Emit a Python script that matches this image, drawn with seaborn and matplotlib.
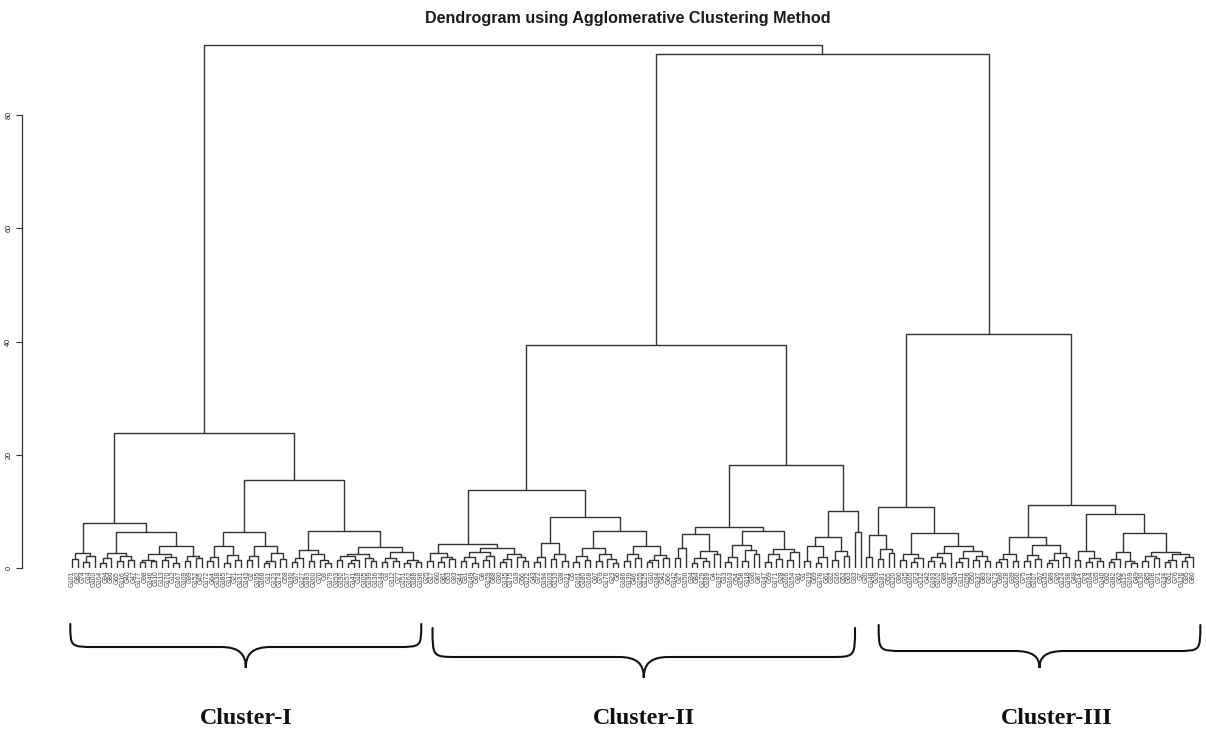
import matplotlib
matplotlib.use("Agg")
import matplotlib.pyplot as plt
import seaborn as sns
import pandas as pd
from matplotlib.path import Path
from matplotlib.patches import PathPatch

# ---------------- data: merge tree (leaf = *, number after ")" = merge height) ----------------
CLUSTER_I = ("((((*,*)1.6,((*,*)1.1,*)2.1)2.7,"
             "((((*,*)0.9,*)1.8,((*,*)1.2,(*,*)1.5)2.1)2.7,"
             "((((*,*)1.0,(*,*)1.2)1.5,((*,*)1.4,(*,*)0.9)2.0)2.4,((*,*)1.3,(*,*)1.7)2.2)3.9)6.4)8.0,"
             "(((((*,*)1.2,*)2.0,((*,*)0.9,(*,*)1.4)2.3)3.9,"
             "(((*,*)1.5,*)2.1,(((*,*)0.8,*)1.3,(*,*)1.6)2.7)3.9)6.4,"
             "((((*,*)1.0,*)1.8,((*,*)1.2,(*,(*,*)0.9)1.5)2.4)3.2,"
             "((((*,*)1.4,((*,*)0.9,*)1.5)2.1,(*,(*,*)1.2)1.8)2.5,"
             "(((*,*)1.0,(*,*)1.3)1.8,((*,*)0.8,(*,*)1.1)1.5)2.9)3.7)6.6)15.5)23.9")

CLUSTER_II = ("(((((*,*)1.3,((*,*)1.0,(*,*)1.6)2.0)2.6,"
              "((((*,*)1.2,(*,*)0.9)1.9,((*,*)1.5,*)2.2)2.8,(((*,*)1.0,*)1.6,(*,(*,*)1.3)2.0)2.5)3.5)4.3,"
              "((((*,*)1.1,*)1.9,((*,*)1.6,(*,*)1.2)2.4)4.5,"
              "((((*,*)1.0,(*,*)1.4)2.1,((*,*)1.2,(*,(*,*)0.9)1.6)2.4)3.5,"
              "(((*,*)1.3,(*,*)1.8)2.5,(((*,*)1.0,*)1.4,(*,*)1.7)2.3)3.8)6.6)9.0)13.8,"
              "(((((*,*)1.8,*)3.5,(((*,*)0.9,(*,*)1.2)1.8,(*,*)2.4)3.0)6.0,"
              "((((*,*)1.0,*)2.0,((*,*)1.3,(*,*)2.5)3.2)4.0,(((*,*)1.1,(*,*)1.6)2.4,((*,*)1.4,*)2.9)3.4)6.6)7.3,"
              "((((*,*)1.2,((*,*)0.9,*)2.0)3.8,((*,*)1.5,(*,*)2.2)3.0)5.5,(*,*)6.4)10.0)18.2)39.4")

CLUSTER_III = ("((((*,*)2.0,((*,*)1.6,(*,*)2.6)3.3)5.8,"
               "(((*,*)1.4,((*,*)1.0,*)1.8)2.5,"
               "((((*,*)1.3,(*,*)0.9)2.0,*)2.6,(((*,*)1.1,*)1.7,((*,*)1.5,(*,*)1.2)2.2)3.0)3.9)6.2)10.7,"
               "(((((*,*)1.0,*)1.6,(*,*)1.3)2.5,"
               "(((*,*)1.2,(*,*)1.6)2.3,(((*,*)0.9,*)1.4,(*,*)1.9)2.7)4.0)5.5,"
               "(((*,*)1.5,((*,*)1.0,(*,*)1.2)1.8)3.0,"
               "((((*,*)1.1,*)1.6,(*,(*,*)0.8)1.3)2.9,"
               "(((*,*)1.2,(*,*)1.7)2.1,(((*,*)1.0,*)1.5,((*,*)1.3,*)1.9)2.4)2.8)6.1)9.5)11.1)41.3")

H_II_III = 90.8
H_ROOT = 92.4

LEAF_LABELS = [
    101, 82, 74, 14, 100, 104, 94, 86, 65, 116, 40, 47, 177, 98, 146, 110, 113, 170, 12, 167,
    109, 99, 152, 45, 172, 64, 138, 185, 117, 21, 131, 143, 2, 195, 166, 11, 123, 174, 58, 190,
    37, 127, 183, 200, 70, 9, 179, 153, 192, 157, 141, 18, 105, 199, 136, 144, 3, 112, 77, 151,
    162, 188, 196, 25, 17, 60, 81, 53, 93, 44, 31, 149, 67, 8, 159, 88, 30, 135, 175, 19,
    56, 122, 43, 72, 194, 103, 133, 38, 121, 5, 161, 180, 168, 97, 79, 176, 23, 6, 186, 139,
    46, 155, 125, 10, 184, 41, 66, 142, 27, 150, 34, 84, 129, 189, 4, 197, 13, 163, 54, 158,
    118, 36, 87, 147, 59, 171, 28, 106, 154, 91, 1, 119, 69, 178, 61, 32, 16, 52, 63, 33,
    7, 20, 148, 29, 181, 55, 120, 90, 15, 165, 73, 132, 42, 193, 102, 68, 187, 24, 111, 156,
    50, 137, 83, 22, 173, 96, 128, 39, 160, 75, 191, 107, 57, 145, 89, 26, 124, 198, 48, 114,
    78, 164, 35, 140, 92, 182, 62, 115, 169, 49, 130, 85, 108, 71, 134, 51, 76, 126, 95, 80,
]

CLUSTER_NAMES = ["Cluster-I", "Cluster-II", "Cluster-III"]
Y_TICKS = [0, 20, 40, 60, 80]
TITLE = "Dendrogram using Agglomerative Clustering Method"


# ---------------- parse tree ----------------
def parse(s):
    pos = 0

    def node():
        nonlocal pos
        if s[pos] == '*':
            pos += 1
            return None
        pos += 1          # '('
        a = node()
        pos += 1          # ','
        b = node()
        pos += 1          # ')'
        j = pos
        while pos < len(s) and (s[pos].isdigit() or s[pos] == '.'):
            pos += 1
        return (float(s[j:pos]), a, b)

    return node()


def n_leaves(t):
    return 1 if t is None else n_leaves(t[1]) + n_leaves(t[2])


c1, c2, c3 = parse(CLUSTER_I), parse(CLUSTER_II), parse(CLUSTER_III)
tree = (H_ROOT, c1, (H_II_III, c2, c3))
N = n_leaves(tree)

segs = []
counter = [0]


def layout(t):
    if t is None:
        x = counter[0]
        counter[0] += 1
        return float(x), 0.0
    h, a, b = t
    xa, ha = layout(a)
    xb, hb = layout(b)
    segs.append((xa, ha, xb, hb, h))
    return (xa + xb) / 2.0, h


layout(tree)

rows = []
for k, (xa, ha, xb, hb, h) in enumerate(segs):
    for o, (x, y) in enumerate([(xa, ha), (xa, h), (xb, h), (xb, hb)]):
        rows.append(dict(unit=k, order=o, x=x, y=y))
df = pd.DataFrame(rows)

# ---------------- figure ----------------
sns.set_theme(style="white")
plt.rcParams['font.family'] = ['Liberation Sans', 'DejaVu Sans']

W, H = 1206, 731
fig = plt.figure(figsize=(W / 100, H / 100), dpi=100)
px_top, px_zero = 40, 568
px_per_unit = 5.66
left_px, right_px = 22, 1200
first_leaf_px, last_leaf_px = 72, 1193
sp = (last_leaf_px - first_leaf_px) / (N - 1)

ax = fig.add_axes([left_px / W, (H - px_zero) / H, (right_px - left_px) / W, (px_zero - px_top) / H])
ax.set_facecolor('white')

sns.lineplot(data=df, x='x', y='y', units='unit', estimator=None, sort=False,
             color='#333333', linewidth=1.0, ax=ax, legend=False)

ax.set_xlim(-(first_leaf_px - left_px) / sp, (N - 1) + (right_px - last_leaf_px) / sp)
ax.set_ylim(0, (px_zero - px_top) / px_per_unit)

for s in ['top', 'right', 'bottom']:
    ax.spines[s].set_visible(False)
ax.spines['left'].set_bounds(0, 80)
ax.spines['left'].set_color('#333333')
ax.spines['left'].set_linewidth(0.9)

ax.set_yticks(Y_TICKS)
ax.set_yticklabels([str(v) for v in Y_TICKS])
ax.tick_params(axis='y', left=True, length=4, width=0.8, color='#333333', labelsize=5.2,
               pad=3, labelrotation=90, labelcolor='#222222')
for lab in ax.get_yticklabels():
    lab.set_va('center')

ax.set_xticks(range(N))
ax.set_xticklabels([f"G{v}" for v in LEAF_LABELS[:N]], rotation=90, fontsize=4.8, color='#444444')
ax.tick_params(axis='x', bottom=False, length=0, pad=2)
ax.set_xlabel('')
ax.set_ylabel('')

# ---------------- braces & cluster names ----------------
def yfrac(p):
    return (px_zero - p) / (px_zero - px_top)


trans = ax.get_xaxis_transform()
n1, n2, n3 = n_leaves(c1), n_leaves(c2), n_leaves(c3)
ranges = [(0, n1 - 1), (n1, n1 + n2 - 1), (n1 + n2, N - 1)]
brace_px = [(624, 647, 668, -0.3, 0.0), (628, 657, 678, 1.0, -1.0), (625, 651, 668, 2.2, 1.3)]
name_dx = [0.0, 0.0, 3.0]
r = 25 / sp

for (a, b), (pt, pf, ptip, d0, d1), name, ndx in zip(ranges, brace_px, CLUSTER_NAMES, name_dx):
    x0, x1 = a + d0, b + d1
    xm = (x0 + x1) / 2
    yt, yf, ytip = yfrac(pt), yfrac(pf), yfrac(ptip)
    ymid = yf + 0.35 * (ytip - yf)
    verts = [(x0, yt), (x0, yf), (x0, yf), (x0 + r, yf),
             (xm - r, yf),
             (xm - 0.25 * r, yf), (xm, ymid), (xm, ytip),
             (xm, ymid), (xm + 0.25 * r, yf), (xm + r, yf),
             (x1 - r, yf),
             (x1, yf), (x1, yf), (x1, yt)]
    codes = [Path.MOVETO, Path.CURVE4, Path.CURVE4, Path.CURVE4,
             Path.LINETO,
             Path.CURVE4, Path.CURVE4, Path.CURVE4,
             Path.CURVE4, Path.CURVE4, Path.CURVE4,
             Path.LINETO,
             Path.CURVE4, Path.CURVE4, Path.CURVE4]
    patch = PathPatch(Path(verts, codes), transform=trans, fill=False, edgecolor='#111111',
                      linewidth=1.5, clip_on=False, capstyle='round')
    ax.add_patch(patch)
    ax.text(xm + ndx, yfrac(719), name, transform=trans, ha='center', va='center',
            fontsize=17.3, fontweight='bold', family=['Liberation Serif', 'DejaVu Serif'],
            color='#111111', clip_on=False)

fig.text(628 / W, 1 - 18 / H, TITLE, ha='center', va='center', fontsize=11.6,
         fontweight='bold', color='#1a1a1a')

fig.savefig("out.png", dpi=100, facecolor='white')
